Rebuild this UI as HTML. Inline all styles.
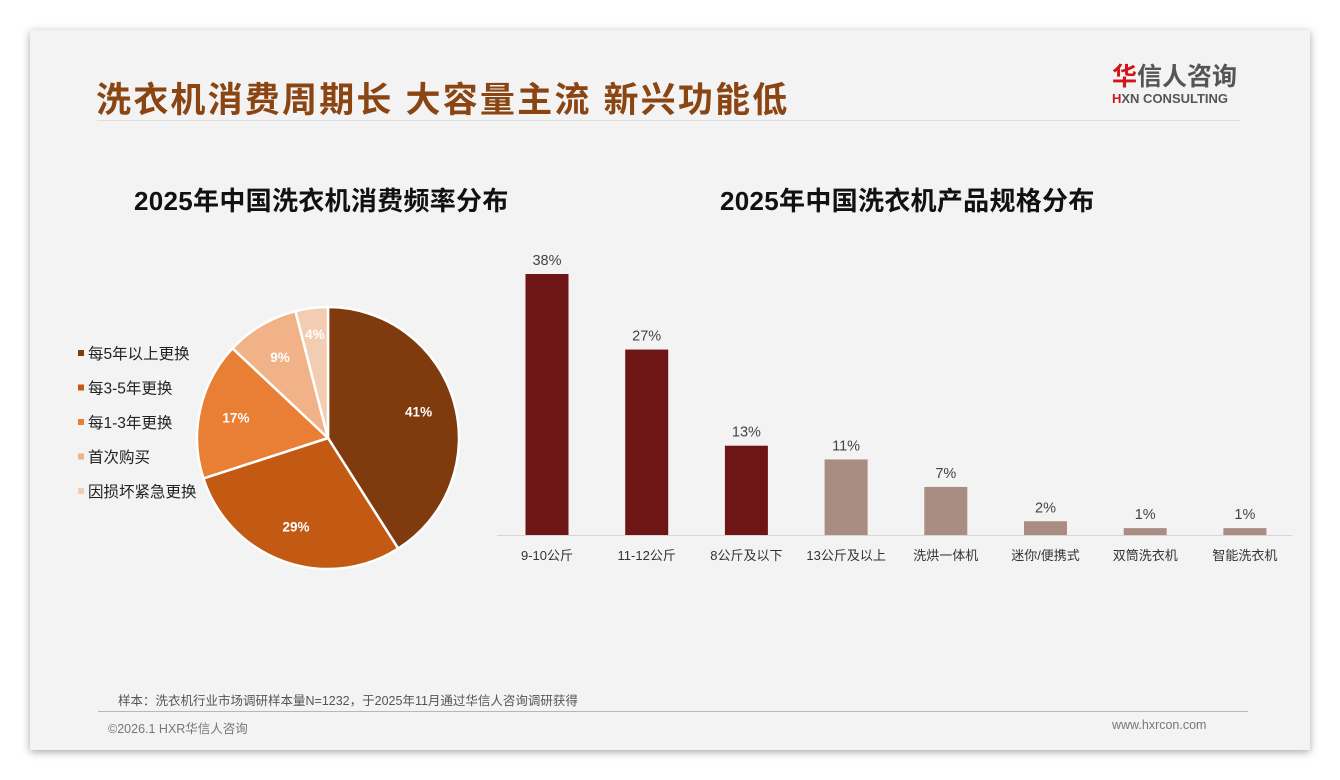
<!DOCTYPE html>
<html><head><meta charset="utf-8">
<style>
body{margin:0;width:1340px;height:780px;background:#fff;font-family:"Liberation Sans","Noto Sans CJK SC",sans-serif;overflow:hidden;position:relative}
#slide{position:absolute;left:30px;top:30px;width:1280px;height:720px;background:#f3f3f3;box-shadow:0 2px 8px rgba(0,0,0,.35)}
.abs{position:absolute}
</style></head><body>
<div id="slide"></div>
<div class="abs" style="left:96px;top:72px;font-size:35px;font-weight:bold;color:#8a4513;letter-spacing:2.2px">洗衣机消费周期长 大容量主流 新兴功能低</div>
<div class="abs" style="left:97px;top:120px;width:1143px;height:1px;background:#ddd"></div>
<div class="abs" style="left:1112px;top:64px;font-size:25px;font-weight:bold;color:#555;line-height:26px"><span style="color:#d0161c">华</span>信人咨询<div style="font-size:13px;line-height:18px;color:#555"><span style="color:#d0161c">H</span>XN CONSULTING</div></div>
<div class="abs" style="left:134px;top:181px;font-size:26px;font-weight:bold;color:#111;letter-spacing:0.3px">2025年中国洗衣机消费频率分布</div>
<div class="abs" style="left:720px;top:181px;font-size:26px;font-weight:bold;color:#111;letter-spacing:0.3px">2025年中国洗衣机产品规格分布</div>
<svg class="abs" id="chart" style="left:0;top:0" width="1340" height="780"></svg>
<div class="abs" style="left:118px;top:690px;font-size:12.5px;color:#555">样本：洗衣机行业市场调研样本量N=1232，于2025年11月通过华信人咨询调研获得</div>
<div class="abs" style="left:98px;top:711px;width:1150px;height:1px;background:#c8b2a4"></div>
<div class="abs" style="left:108px;top:718px;font-size:12.5px;color:#777">©2026.1 HXR华信人咨询</div>
<div class="abs" style="left:1112px;top:718px;font-size:12.5px;color:#777">www.hxrcon.com</div>
<script>
const pieLabels=["每5年以上更换","每3-5年更换","每1-3年更换","首次购买","因损坏紧急更换"];
const pieValues=[41,29,17,9,4];
const pieColors=["#7f3b0e","#c25a14","#e87f35","#f1b287","#f3cdb2"];
const barCats=["9-10公斤","11-12公斤","8公斤及以下","13公斤及以上","洗烘一体机","迷你/便携式","双筒洗衣机","智能洗衣机"];
const barValues=[38,27,13,11,7,2,1,1];
const barHighlight=[1,1,1,0,0,0,0,0];
const NS="http://www.w3.org/2000/svg";
const svg=document.getElementById('chart');
function mk(t,a){const e=document.createElementNS(NS,t);for(const k in a)e.setAttribute(k,a[k]);svg.appendChild(e);return e;}
const cx=328,cy=438,r=131;
const total=pieValues.reduce((a,b)=>a+b,0);
let ang=-Math.PI/2;
pieValues.forEach((v,i)=>{
 const a2=ang+v/total*2*Math.PI;
 const x1=cx+r*Math.cos(ang),y1=cy+r*Math.sin(ang),x2=cx+r*Math.cos(a2),y2=cy+r*Math.sin(a2);
 const p=mk('path',{d:`M${cx},${cy}L${x1},${y1}A${r},${r} 0 ${a2-ang>Math.PI?1:0} 1 ${x2},${y2}Z`,fill:pieColors[i],stroke:'#fff','stroke-width':2.5});
 
 
 const m=(ang+a2)/2,lr=r*(v<6?0.8:0.72);
 const t=mk('text',{x:cx+lr*Math.cos(m),y:cy+lr*Math.sin(m)+5,'text-anchor':'middle','font-size':13.5,'font-weight':'bold',fill:'#fff'});
 t.textContent=v+'%';
 
 
 ang=a2;
});
pieLabels.forEach((l,i)=>{
 const y=354+i*34.5;
 const s=mk('rect',{x:78,y:y-4,width:6,height:6,fill:pieColors[i]});
 
 
 const t=mk('text',{x:88,y:y+5,'font-size':15.5,fill:'#222'});
 t.textContent=l;
 
 
});
const base=535,scale=261/38,x0=547,step=99.7,bw=43;
const ax=mk('line',{x1:497,y1:base+0.5,x2:1292,y2:base+0.5,stroke:'#d6d6d6','stroke-width':1});


barValues.forEach((v,i)=>{
 const xc=x0+i*step,h=v*scale;
 const b=mk('rect',{x:xc-bw/2,y:base-h,width:bw,height:h,fill:barHighlight[i]?'#6e1616':'#a98c82'});
 
 
 const t=mk('text',{x:xc,y:base-h-9,'text-anchor':'middle','font-size':14.5,fill:'#444'});
 t.textContent=v+'%';
 
 
 const c=mk('text',{x:xc,y:560,'text-anchor':'middle','font-size':13,fill:'#333'});
 c.textContent=barCats[i];
 
 
});
</script>
</body></html>
